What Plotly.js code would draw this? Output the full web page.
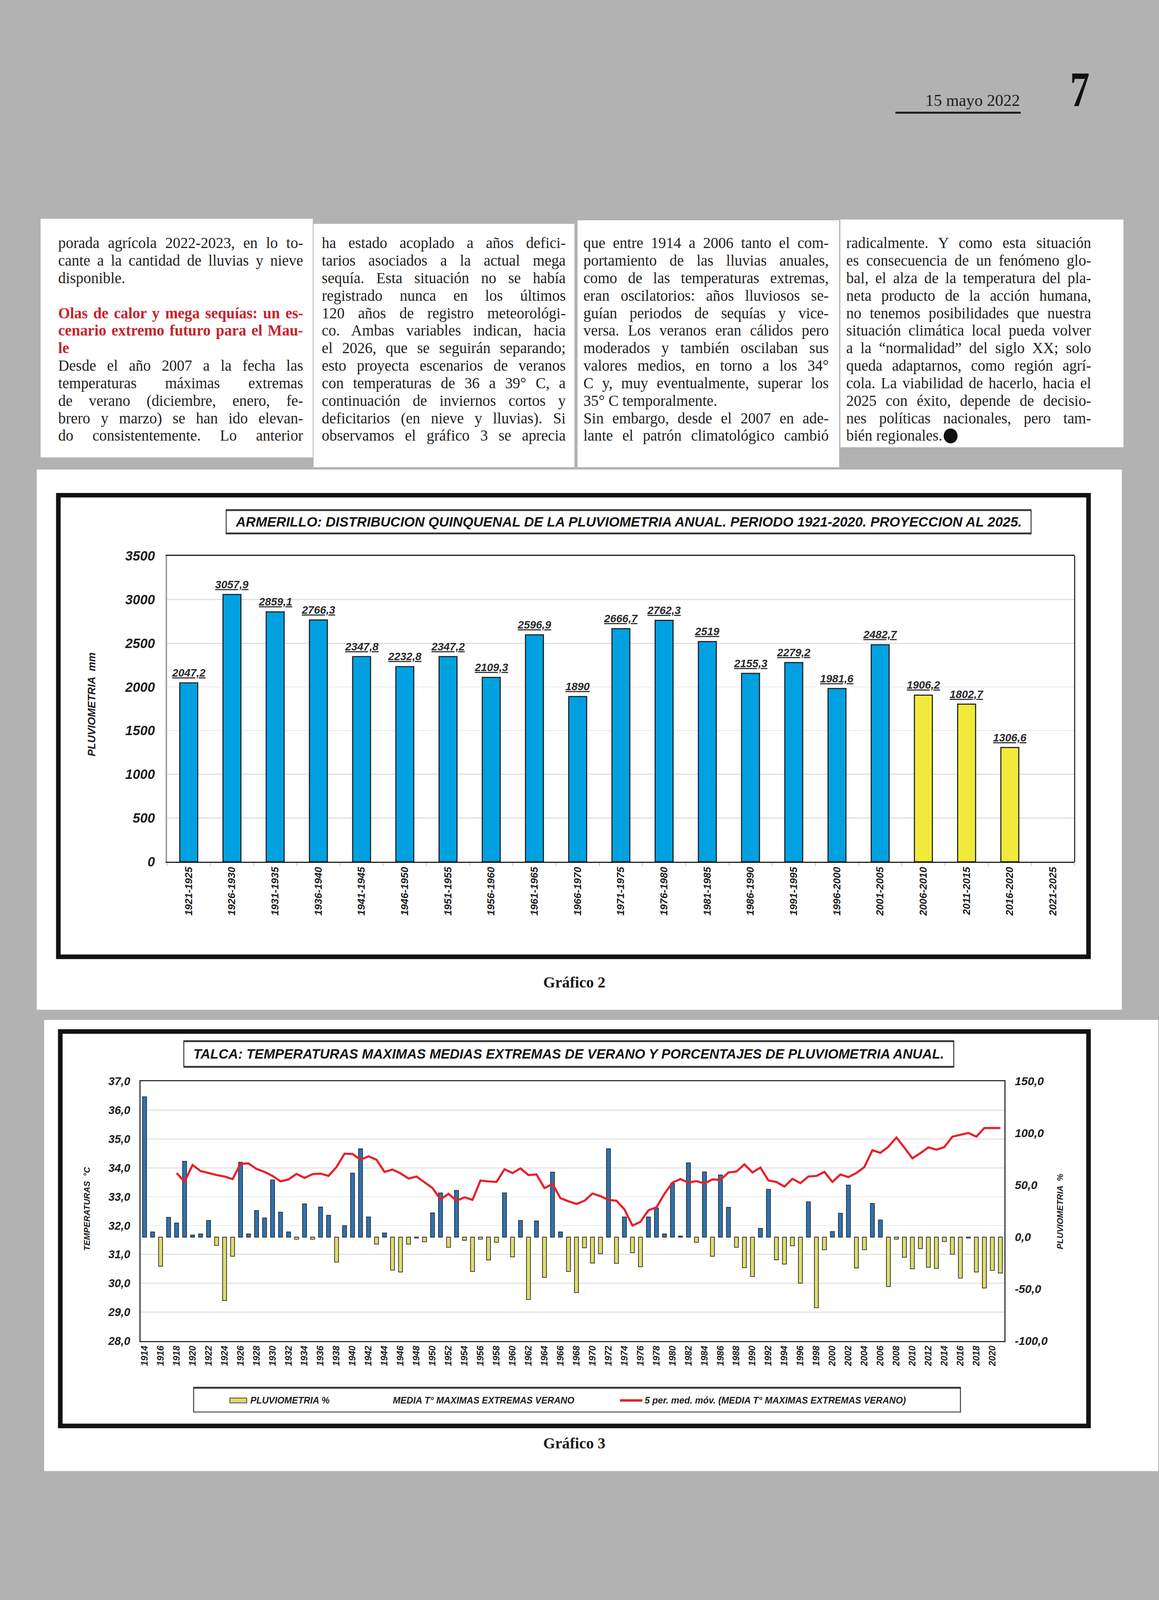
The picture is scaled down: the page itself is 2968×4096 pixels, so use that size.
<!DOCTYPE html>
<html lang="es"><head><meta charset="utf-8">
<script src="https://cdn.plot.ly/plotly-3.0.1.min.js"></script>
<style>
html,body{margin:0;padding:0;}
body{background:#b2b2b2;width:2968px;height:4096px;overflow:hidden;position:relative;}
.box{position:absolute;background:#fff;}
.ln{position:absolute;transform-origin:0 0;color:#231f20;font-family:"Liberation Serif","Times New Roman",serif;}
.plt{position:absolute;}
</style></head><body>
<script>
// ================= DATA =================
// Gráfico 2
const periodos = ['1921-1925','1926-1930','1931-1935','1936-1940','1941-1945','1946-1950','1951-1955','1956-1960','1961-1965','1966-1970','1971-1975','1976-1980','1981-1985','1986-1990','1991-1995','1996-2000','2001-2005','2006-2010','2011-2015','2016-2020','2021-2025'];
const pluviometriaQuinquenal = [2047.2,3057.9,2859.1,2766.3,2347.8,2232.8,2347.2,2109.3,2596.9,1890,2666.7,2762.3,2519,2155.3,2279.2,1981.6,2482.7,1906.2,1802.7,1306.6,null];
const periodosRecientes = ['2006-2010','2011-2015','2016-2020','2021-2025'];

// Gráfico 3
const anios = [1914,1915,1916,1917,1918,1919,1920,1921,1922,1923,1924,1925,1926,1927,1928,1929,1930,1931,1932,1933,1934,1935,1936,1937,1938,1939,1940,1941,1942,1943,1944,1945,1946,1947,1948,1949,1950,1951,1952,1953,1954,1955,1956,1957,1958,1959,1960,1961,1962,1963,1964,1965,1966,1967,1968,1969,1970,1971,1972,1973,1974,1975,1976,1977,1978,1979,1980,1981,1982,1983,1984,1985,1986,1987,1988,1989,1990,1991,1992,1993,1994,1995,1996,1997,1998,1999,2000,2001,2002,2003,2004,2005,2006,2007,2008,2009,2010,2011,2012,2013,2014,2015,2016,2017,2018,2019,2020,2021];
const pluviometriaPct = [135,5,-28,19,13.6,73,2,3,16,-8,-61,-18.5,72,3,25.6,18.5,55,24,5,-2,32,-2,29,21,-24,11,61.6,85,19.4,-6.8,4,-31.7,-33.6,-6.8,-1,-4.5,23.3,42.5,-9.7,45,-3,-33,-2,-22,-5,42.5,-19,16,-60,15.5,-38.8,62.5,5,-33,-53.4,-10.3,-24.9,-16,85,-25.2,19.4,-15,-28.5,19.4,28,3,51.5,1,71.5,-5,62.7,-18.5,59.8,28.7,-9.7,-29.5,-37.9,8.4,46,-21.8,-26,-8.4,-44.3,34,-68,-12.2,5.4,23,50,-29.7,-12.2,32.4,16.5,-47.6,-2,-19.4,-30.5,-11,-29,-30,-4.3,-16.5,-39.4,-1,-33.6,-49,-32,-34.6];
const mediaMovilTmax = [null,null,null,null,33.82,33.52,34.10,33.89,33.82,33.75,33.70,33.61,34.14,34.15,33.96,33.86,33.72,33.53,33.60,33.79,33.65,33.78,33.80,33.72,34.03,34.49,34.48,34.28,34.40,34.28,33.86,33.94,33.81,33.63,33.70,33.49,33.30,32.91,33.10,32.86,32.98,32.89,33.56,33.53,33.51,33.95,33.82,33.98,33.75,33.77,33.30,33.44,32.95,32.84,32.75,32.86,33.11,33.02,32.89,32.86,32.56,32.00,32.13,32.53,32.63,33.10,33.49,33.61,33.49,33.54,33.46,33.60,33.58,33.84,33.87,34.12,33.84,34.01,33.56,33.51,33.35,33.62,33.47,33.70,33.72,33.86,33.51,33.77,33.68,33.82,34.03,34.61,34.52,34.73,35.05,34.70,34.33,34.51,34.71,34.63,34.72,35.08,35.15,35.21,35.08,35.38,35.38,35.38];
const ticksPct = [-100,-50,0,50,100,150];

const titulo2 = 'ARMERILLO: DISTRIBUCION QUINQUENAL DE LA PLUVIOMETRIA ANUAL. PERIODO 1921-2020. PROYECCION AL 2025.';
const titulo3 = 'TALCA: TEMPERATURAS MAXIMAS MEDIAS EXTREMAS DE VERANO Y PORCENTAJES DE PLUVIOMETRIA ANUAL.';
const leyenda3 = ['PLUVIOMETRIA %','MEDIA T° MAXIMAS EXTREMAS VERANO','5 per. med. móv. (MEDIA T° MAXIMAS EXTREMAS VERANO)'];

// Article text (line by line; j = justified, l = left, h = heading, d = end dot)
const columna1 = [
 ['porada agrícola 2022-2023, en lo to-','j'],
 ['cante a la cantidad de lluvias y nieve','j'],
 ['disponible.','l'],
 ['',''],
 ['Olas de calor y mega sequías: un es-','hj'],
 ['cenario extremo futuro para el Mau-','hj'],
 ['le','hl'],
 ['Desde el año 2007 a la fecha las','j'],
 ['temperaturas máximas extremas','j'],
 ['de verano (diciembre, enero, fe-','j'],
 ['brero y marzo) se han ido elevan-','j'],
 ['do consistentemente. Lo anterior','j']
];
const columna2 = [
 ['ha estado acoplado a años defici-','j'],
 ['tarios asociados a la actual mega','j'],
 ['sequía. Esta situación no se había','j'],
 ['registrado nunca en los últimos','j'],
 ['120 años de registro meteorológi-','j'],
 ['co. Ambas variables indican, hacia','j'],
 ['el 2026, que se seguirán separando;','j'],
 ['esto proyecta escenarios de veranos','j'],
 ['con temperaturas de 36 a 39° C, a','j'],
 ['continuación de inviernos cortos y','j'],
 ['deficitarios (en nieve y lluvias). Si','j'],
 ['observamos el gráfico 3 se aprecia','j']
];
const columna3 = [
 ['que entre 1914 a 2006 tanto el com-','j'],
 ['portamiento de las lluvias anuales,','j'],
 ['como de las temperaturas extremas,','j'],
 ['eran oscilatorios: años lluviosos se-','j'],
 ['guían periodos de sequías y vice-','j'],
 ['versa. Los veranos eran cálidos pero','j'],
 ['moderados y también oscilaban sus','j'],
 ['valores medios, en torno a los 34°','j'],
 ['C y, muy eventualmente, superar los','j'],
 ['35° C temporalmente.','l'],
 ['Sin embargo, desde el 2007 en ade-','j'],
 ['lante el patrón climatológico cambió','j']
];
const columna4 = [
 ['radicalmente. Y como esta situación','j'],
 ['es consecuencia de un fenómeno glo-','j'],
 ['bal, el alza de la temperatura del pla-','j'],
 ['neta producto de la acción humana,','j'],
 ['no tenemos posibilidades que nuestra','j'],
 ['situación climática local pueda volver','j'],
 ['a la “normalidad” del siglo XX; solo','j'],
 ['queda adaptarnos, como región agrí-','j'],
 ['cola. La viabilidad de hacerlo, hacia el','j'],
 ['2025 con éxito, depende de decisio-','j'],
 ['nes políticas nacionales, pero tam-','j'],
 ['bién regionales.','ld']
];

// ================= PAGE =================
const S = 0.9;
function box(x0,y0,x1,y1,bg){
  const d=document.createElement('div'); d.className='box';
  d.style.left=x0*S+'px'; d.style.top=y0*S+'px';
  d.style.width=(x1-x0)*S+'px'; d.style.height=(y1-y0)*S+'px';
  if(bg) d.style.background=bg;
  document.body.appendChild(d); return d;
}
// text column boxes
box(116,622,890,1301);
box(892,637,1635,1329);
box(1643,627,2388,1329);
box(2391,624,3197,1272);
// chart panels
box(104,1335,3192,2872);
box(125,2901,3296,4184);

// header
(function(){
  const d=document.createElement('div'); d.className='ln';
  const F=47;
  d.style.cssText+='left:0;width:'+(2902*S)+'px;text-align:right;top:'+((302-0.8375*F)*S)+'px;font-size:'+(F*S)+'px;line-height:'+(F*S)+'px;color:#1c1c1c;';
  d.textContent='15 mayo 2022'; document.body.appendChild(d);
  box(2548,318,2904,323,'#1c1c1c');
  const n=document.createElement('div'); n.className='ln';
  const G=140;
  n.style.cssText+='left:'+(3044*S)+'px;top:'+((303-0.8375*G)*S)+'px;font-size:'+(G*S)+'px;line-height:'+(G*S)+'px;font-weight:bold;color:#111;transform:scaleX(0.8);';
  n.textContent='7'; document.body.appendChild(n);
})();

// article columns
const FT=45, CT=0.96, LEAD=49.8, BASE0=707;
const columnas=[{x:165,w:697,l:columna1},{x:915,w:694,l:columna2},{x:1660,w:698,l:columna3},{x:2408,w:697,l:columna4}];
columnas.forEach(c=>{
  c.l.forEach((ln,i)=>{
    if(!ln[0]) return;
    const d=document.createElement('div'); d.className='ln';
    const base=BASE0+i*LEAD;
    d.style.left=c.x*S+'px';
    d.style.top=(base-0.8375*FT)*S+'px';
    d.style.width=(c.w/CT)*S+'px';
    d.style.fontSize=FT*S+'px'; d.style.lineHeight=FT*S+'px';
    d.style.transform='scaleX('+CT+')';
    const j=ln[1].indexOf('j')>=0;
    d.style.textAlign=j?'justify':'left'; d.style.textAlignLast=j?'justify':'left';
    if(ln[1].indexOf('h')>=0){d.style.color='#c9222b';d.style.fontWeight='bold';}
    d.textContent=ln[0];
    if(ln[1].indexOf('d')>=0){
      const s=document.createElement('span');
      s.style.cssText='display:inline-block;width:'+(41*S)+'px;height:'+(42*S)+'px;border-radius:50%;background:#111;margin-left:'+(4*S)+'px;vertical-align:'+(-7*S)+'px;';
      d.appendChild(s);
    }
    document.body.appendChild(d);
  });
});

// ================= CHARTS =================
const SANS='Liberation Sans, Arial, sans-serif';
const SERIF='Liberation Serif, Times New Roman, serif';
function fnt(size,fam,color,extra){
  return Object.assign({family:fam||SANS,size:size*S,color:color||'#1e1e1e',weight:'bold',style:'italic'},extra||{});
}
function mkDiv(C){
  const d=document.createElement('div'); d.className='plt';
  d.style.left=C.x0*S+'px'; d.style.top=C.y0*S+'px';
  d.style.width=(C.x1-C.x0)*S+'px'; d.style.height=(C.y1-C.y0)*S+'px';
  document.body.appendChild(d); return d;
}
function conv(C){
  return {X:x=>(x-C.pl)/(C.pr-C.pl), Y:y=>(C.pb-y)/(C.pb-C.pt)};
}
function baseLayout(C){
  return {width:(C.x1-C.x0)*S,height:(C.y1-C.y0)*S,
    margin:{l:(C.pl-C.x0)*S,r:(C.x1-C.pr)*S,t:(C.pt-C.y0)*S,b:(C.y1-C.pb)*S,pad:0},
    paper_bgcolor:'rgba(0,0,0,0)',plot_bgcolor:'#ffffff',showlegend:false,separators:',.'};
}
function rect(c,x0,y0,x1,y1,col,w,fill){
  return {type:'rect',xref:'paper',yref:'paper',x0:c.X(x0),x1:c.X(x1),y0:c.Y(y1),y1:c.Y(y0),line:{color:col,width:w*S},fillcolor:fill||'rgba(0,0,0,0)',layer:'below'};
}
function hline(c,x0,x1,y,col,w){
  return {type:'line',xref:'paper',yref:'paper',x0:c.X(x0),x1:c.X(x1),y0:c.Y(y),y1:c.Y(y),line:{color:col,width:w*S},layer:'above'};
}
function txt(c,x,y,t,font,o){
  return Object.assign({xref:'paper',yref:'paper',x:c.X(x),y:c.Y(y),text:t,showarrow:false,xanchor:'center',yanchor:'middle',font:font},o||{});
}
const HIDDEN_TICK='rgba(0,0,0,0)';

// ---- Gráfico 2 ----
(function(){
  const C={x0:0,y0:1335,x1:3296,y1:2872,pl:476,pr:3058,pt:1581,pb:2451};
  const c=conv(C);
  const L=baseLayout(C);
  const colores=periodos.map(p=>periodosRecientes.indexOf(p)>=0?'#f1ea3a':'#00a1e1');
  const trace={type:'bar',x:periodos,y:pluviometriaQuinquenal,marker:{color:colores,line:{color:'#1b1b1b',width:3*S}},hoverinfo:'skip'};
  L.bargap=0.585;
  L.xaxis={type:'category',showgrid:false,zeroline:false,showline:true,mirror:true,linecolor:'#1e1e1e',linewidth:3*S,
    ticks:'outside',tickson:'boundaries',ticklen:9*S,tickcolor:'#c8c8c8',tickwidth:2*S,
    tickangle:-90,tickfont:fnt(29)};
  L.yaxis={range:[0,3500],dtick:500,tickformat:'d',showgrid:true,gridcolor:'#d4d4d4',gridwidth:2*S,zeroline:false,
    showline:true,linecolor:'#a0a0a0',linewidth:4*S,ticks:'outside',ticklen:23*S,tickcolor:HIDDEN_TICK,tickfont:fnt(38)};
  L.shapes=[
    rect(c,166.5,1408.5,3097.5,2721.5,'#121212',13),
    rect(c,644,1450,2934,1518,'#4a4a4a',3,'#ffffff'),
    hline(c,644,2934,1451,'#333',5),
    hline(c,644,2934,1517,'#333',5),
    {type:'line',xref:'paper',yref:'paper',x0:1,x1:1,y0:0,y1:1,line:{color:'#1e1e1e',width:3*S}}
  ];
  const ann=[
    txt(c,1789,1484,titulo2,fnt(39,SANS,'#151515')),
    txt(c,261,2003,'PLUVIOMETRIA  mm',fnt(30),{textangle:-90}),
    txt(c,1634,2794,'Gráfico 2',{family:SERIF,size:44*S,color:'#1a1a1a',weight:'bold'})
  ];
  periodos.forEach((p,i)=>{
    const v=pluviometriaQuinquenal[i];
    if(v==null) return;
    ann.push({xref:'x',yref:'y',x:p,y:v,text:String(v).replace('.',','),showarrow:false,yanchor:'bottom',xanchor:'center',yshift:9*S,
      font:fnt(31,SANS,'#2a2a2a',{lineposition:'under'})});
  });
  L.annotations=ann;
  Plotly.newPlot(mkDiv(C),[trace],L,{staticPlot:true,displayModeBar:false});
})();

// ---- Gráfico 3 ----
(function(){
  const C={x0:0,y0:2901,x1:3296,y1:4184,pl:400,pr:2858,pt:3075,pb:3814};
  const c=conv(C);
  const L=baseLayout(C);
  const colores=pluviometriaPct.map(v=>v<0?'#dcdd6c':'#2d73b2');
  const barras={type:'bar',x:anios,y:pluviometriaPct,yaxis:'y',name:leyenda3[0],
    marker:{color:colores,line:{color:'#2a2a2a',width:2*S}},hoverinfo:'skip'};
  const linea={type:'scatter',mode:'lines',x:anios,y:mediaMovilTmax,yaxis:'y2',name:leyenda3[2],
    line:{color:'#e8202a',width:6*S},connectgaps:false,hoverinfo:'skip'};
  L.bargap=0.5;
  L.xaxis={range:[1913.5,2021.5],tick0:1914,dtick:2,tickformat:'d',tickangle:-90,ticks:'',showgrid:false,zeroline:false,
    showline:true,mirror:true,linecolor:'#333',linewidth:3*S,tickfont:fnt(26)};
  L.yaxis={range:[-100,150],tickmode:'array',tickvals:ticksPct,ticktext:ticksPct.map(v=>v.toFixed(1).replace('.',',')),
    side:'right',showgrid:false,zeroline:false,
    showline:true,linecolor:'#333',linewidth:3*S,ticks:'outside',ticklen:20*S,tickcolor:HIDDEN_TICK,tickfont:fnt(33)};
  L.yaxis2={overlaying:'y',side:'left',range:[28,37],dtick:1,tickformat:'.1f',showgrid:true,gridcolor:'#d9d9d9',gridwidth:2*S,
    zeroline:false,showline:true,linecolor:'#333',linewidth:3*S,ticks:'outside',ticklen:20*S,tickcolor:HIDDEN_TICK,tickfont:fnt(32)};
  L.shapes=[
    rect(c,171.5,2933.5,3097.5,4055.5,'#121212',13),
    rect(c,523,2960,2714,3035,'#4a4a4a',3,'#ffffff'),
    hline(c,523,2714,2961,'#333',5),
    hline(c,523,2714,3034,'#333',5),
    rect(c,551,3946,2733,4016,'#4a4a4a',3,'#ffffff'),
    hline(c,551,2733,3947,'#333',5),
    Object.assign(rect(c,654,3976,702,3990,'#333',2,'#dcdd6c'),{layer:'above'}),
    hline(c,1764,1828,3983,'#e8202a',7)
  ];
  L.annotations=[
    txt(c,1618,2997,titulo3,fnt(38.5,SANS,'#151515')),
    txt(c,247,3438,'TEMPERATURAS  °C',fnt(24),{textangle:-90}),
    txt(c,3017,3445,'PLUVIOMETRIA  %',fnt(24),{textangle:-90}),
    txt(c,710,3983,leyenda3[0],fnt(26),{xanchor:'left'}),
    txt(c,1116,3983,leyenda3[1],fnt(26),{xanchor:'left'}),
    txt(c,1832,3983,leyenda3[2],fnt(26),{xanchor:'left'}),
    txt(c,1634,4105,'Gráfico 3',{family:SERIF,size:44*S,color:'#1a1a1a',weight:'bold'})
  ];
  Plotly.newPlot(mkDiv(C),[barras,linea],L,{staticPlot:true,displayModeBar:false});
})();
</script>
</body></html>
